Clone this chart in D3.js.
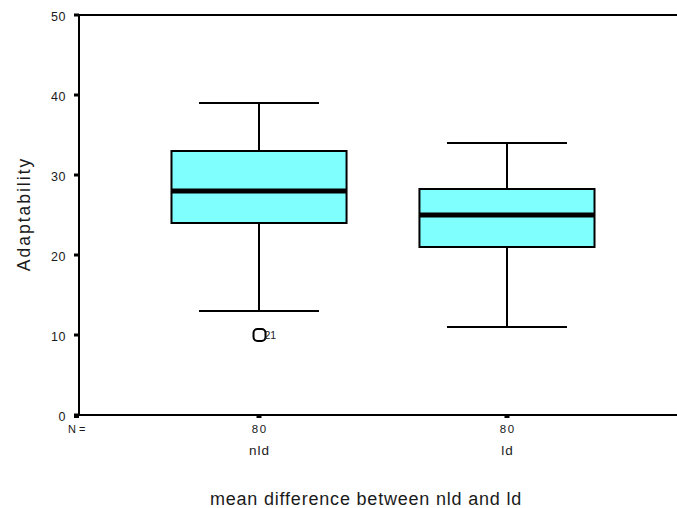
<!DOCTYPE html>
<html>
<head>
<meta charset="utf-8">
<script src="https://cdn.jsdelivr.net/npm/d3@7"></script>
<style>
  body { margin: 0; background: #fff; }
  text { font-family: "Liberation Sans", Arial, sans-serif; fill: #1a1a1a; }
</style>
</head>
<body>
<div id="chart"></div>
<script>
// data
var groups = ["nld", "ld"];
var counts = [80, 80];
var whiskerLow = [13, 11];
var q1 = [24, 21];
var medians = [28, 25];
var q3 = [33, 28.25];
var whiskerHigh = [39, 34];
var outlierValues = [10];
var outlierGroups = ["nld"];
var outlierLabels = ["21"];
var yTicks = [0, 10, 20, 30, 40, 50];

var width = 677, height = 508;
var svg = d3.select("#chart").append("svg")
    .attr("width", width)
    .attr("height", height);

var plotLeft = 79, plotTop = 15, plotBottom = 415, plotRight = 687;

var y = d3.scaleLinear().domain([0, 50]).range([plotBottom, plotTop]);
var x = d3.scalePoint().domain(groups).range([plotLeft, plotRight]).padding(0.726);
var step = x.step();
var boxW = step * 0.706, capW = step * 0.484;

// frame (left, top, bottom lines)
svg.append("line").attr("x1", plotLeft).attr("x2", plotLeft).attr("y1", plotTop).attr("y2", plotBottom)
    .attr("stroke", "#000").attr("stroke-width", 2);
svg.append("line").attr("x1", plotLeft - 1).attr("x2", width).attr("y1", plotTop).attr("y2", plotTop)
    .attr("stroke", "#000").attr("stroke-width", 2);
svg.append("line").attr("x1", plotLeft - 1).attr("x2", width).attr("y1", plotBottom).attr("y2", plotBottom)
    .attr("stroke", "#000").attr("stroke-width", 2);

// y ticks
var yt = svg.append("g").selectAll("g").data(yTicks).enter().append("g");
yt.append("rect")
    .attr("x", plotLeft - 5).attr("y", function(d) { return y(d) - 1.5; })
    .attr("width", 5).attr("height", 3).attr("fill", "#000");
yt.append("text")
    .attr("x", 66).attr("y", function(d) { return y(d) + 1.5; })
    .attr("dy", "0.35em").attr("text-anchor", "end")
    .style("font-size", "12.5px").style("letter-spacing", "0.5px")
    .text(function(d) { return d; });

// x ticks
svg.append("rect").attr("x", plotLeft - 5).attr("y", plotBottom).attr("width", 5).attr("height", 3).attr("fill", "#000");
groups.forEach(function(g) {
  svg.append("rect").attr("x", x(g) - 2.5).attr("y", plotBottom).attr("width", 5).attr("height", 3).attr("fill", "#000");
});

// N = labels
svg.append("text").attr("x", 68).attr("y", 433)
    .style("font-size", "11px").text("N =");
groups.forEach(function(g, i) {
  svg.append("text").attr("x", x(g) + 0.75).attr("y", 433).attr("text-anchor", "middle")
      .style("font-size", "11.5px").style("letter-spacing", "1.5px").text(counts[i]);
  svg.append("text").attr("x", x(g) + 0.5).attr("y", 455).attr("text-anchor", "middle")
      .style("font-size", "13.5px").style("letter-spacing", "1px").text(g);
});

// boxes
var bx = svg.append("g").selectAll("g").data(groups).enter().append("g");
bx.append("line")
    .attr("x1", function(d) { return x(d); }).attr("x2", function(d) { return x(d); })
    .attr("y1", function(d, i) { return y(whiskerHigh[i]); })
    .attr("y2", function(d, i) { return y(whiskerLow[i]); })
    .attr("stroke", "#000").attr("stroke-width", 2);
bx.append("line")
    .attr("x1", function(d) { return x(d) - capW / 2; }).attr("x2", function(d) { return x(d) + capW / 2; })
    .attr("y1", function(d, i) { return y(whiskerHigh[i]); })
    .attr("y2", function(d, i) { return y(whiskerHigh[i]); })
    .attr("stroke", "#000").attr("stroke-width", 2);
bx.append("line")
    .attr("x1", function(d) { return x(d) - capW / 2; }).attr("x2", function(d) { return x(d) + capW / 2; })
    .attr("y1", function(d, i) { return y(whiskerLow[i]); })
    .attr("y2", function(d, i) { return y(whiskerLow[i]); })
    .attr("stroke", "#000").attr("stroke-width", 2);
bx.append("rect")
    .attr("x", function(d) { return x(d) - boxW / 2; })
    .attr("y", function(d, i) { return y(q3[i]); })
    .attr("width", boxW)
    .attr("height", function(d, i) { return y(q1[i]) - y(q3[i]); })
    .attr("fill", "#80ffff").attr("stroke", "#000").attr("stroke-width", 2);
bx.append("line")
    .attr("x1", function(d) { return x(d) - boxW / 2; }).attr("x2", function(d) { return x(d) + boxW / 2; })
    .attr("y1", function(d, i) { return y(medians[i]); })
    .attr("y2", function(d, i) { return y(medians[i]); })
    .attr("stroke", "#000").attr("stroke-width", 5);

// outliers
outlierValues.forEach(function(v, i) {
  var cx = x(outlierGroups[i]) + 0.5, cy = y(v);
  svg.append("rect")
      .attr("x", cx - 6).attr("y", cy - 6).attr("width", 12).attr("height", 12)
      .attr("rx", 4).attr("fill", "none").attr("stroke", "#000").attr("stroke-width", 2);
  svg.append("text").attr("x", cx + 5).attr("y", cy + 4)
      .style("font-size", "10.5px").text(outlierLabels[i]);
});

// axis titles
svg.append("text")
    .attr("transform", "translate(30," + 214 + ") rotate(-90)")
    .attr("text-anchor", "middle")
    .style("font-size", "17.5px").style("letter-spacing", "2px")
    .text("Adaptability");
svg.append("text")
    .attr("x", 366).attr("y", 505).attr("text-anchor", "middle")
    .style("font-size", "18px").style("letter-spacing", "0.8px")
    .text("mean difference between nld and ld");
</script>
</body>
</html>
